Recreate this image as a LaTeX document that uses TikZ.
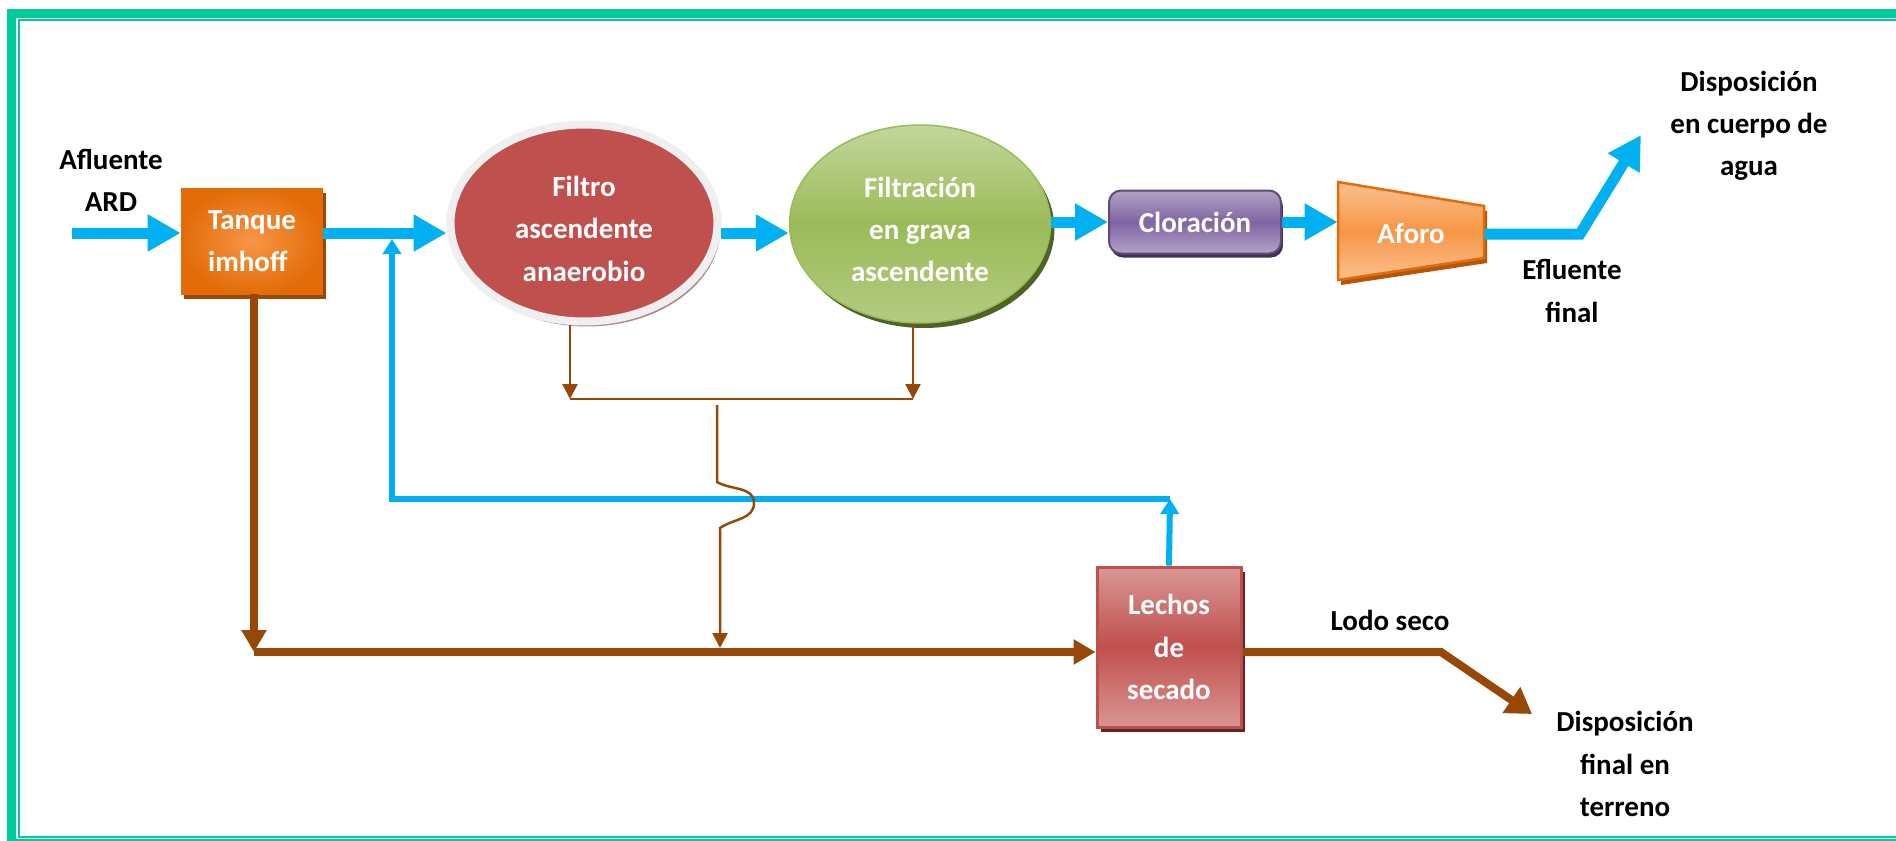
\documentclass[tikz,border=0pt]{standalone}
\usepackage{fontspec}
\setmainfont{Carlito}
\usetikzlibrary{arrows.meta,shapes.geometric,shadows}

\begin{document}
\begin{tikzpicture}[x=0.02cm,y=-0.02cm,line join=miter,
    every node/.style={font=\bfseries\fontsize{16.5}{24}\selectfont,align=center},
    caja/.style={text=white,inner sep=0pt},
    flujo/.style={draw=aguacolor,line width=0.22cm,-{Triangle[width=0.7cm,length=0.66cm]}},
    retorno/.style={draw=aguacolor,line width=0.12cm,-{Triangle[width=0.36cm,length=0.3cm]}},
    lodo/.style={draw=lodocolor,line width=0.16cm,-{Triangle[width=0.48cm,length=0.44cm]}},
    lodofino/.style={draw=lodocolor,line width=0.05cm,-{Triangle[width=0.3cm,length=0.3cm]}}]

    \definecolor{marcocolor}{HTML}{00CC99}
    \definecolor{aguacolor}{HTML}{00B0F0}
    \definecolor{lodocolor}{HTML}{974806}
    \definecolor{tanquecolor}{HTML}{E36C09}
    \definecolor{tanqueclaro}{HTML}{F79646}
    \definecolor{tanquesombra}{HTML}{984807}
    \definecolor{filtrocolor}{HTML}{C0504D}
    \definecolor{filtroborde}{HTML}{EFEFEF}
    \definecolor{filtrosombra}{RGB}{176,140,140}
    \definecolor{gravacolor}{HTML}{9BBB59}
    \definecolor{gravaclaro}{HTML}{C3D69B}
    \definecolor{gravasombra}{HTML}{4F6228}
    \definecolor{cloracolor}{HTML}{8064A2}
    \definecolor{cloraclaro}{HTML}{B3A2C7}
    \definecolor{cloraborde}{HTML}{5F497A}
    \definecolor{clorasombra}{HTML}{3F3151}
    \definecolor{aforocolor}{HTML}{F79646}
    \definecolor{aforoclaro}{HTML}{FAC090}
    \definecolor{aforoborde}{HTML}{E36C09}
    \definecolor{aforosombra}{HTML}{B65708}
    \definecolor{lechoscolor}{HTML}{C0504D}
    \definecolor{lechosclaro}{HTML}{D99694}
    \definecolor{lechossombra}{HTML}{632523}

    \useasboundingbox (0,0) rectangle (1896,840);
    \clip (0,0) rectangle (1896,840);

    \draw[marcocolor,line width=0.18cm] (1896,13) -- (11.5,13) -- (11.5,843.5) -- (1896,843.5);
    \draw[marcocolor,line width=0.05cm] (1896,20) -- (19,20) -- (19,837) -- (1896,837);

    \node[caja,rectangle,minimum width=2.84cm,minimum height=2.12cm,align=left,
        inner color=tanqueclaro,outer color=tanquecolor,
        drop shadow={shadow xshift=0.06cm,shadow yshift=-0.1cm,fill=tanquesombra,opacity=1}]
        (tanque) at (252,241) {Tanque\\imhoff};

    \node[caja,ellipse,minimum width=5.34cm,minimum height=3.94cm,
        fill=filtrocolor,draw=filtroborde,line width=0.16cm,
        drop shadow={shadow xshift=0.06cm,shadow yshift=-0.1cm,fill=filtrosombra,opacity=1}]
        (filtro) at (584,223) {\rule{0pt}{0.64cm}Filtro\\ascendente\\anaerobio};

    \node[caja,ellipse,minimum width=5.22cm,minimum height=3.96cm,
        top color=gravaclaro,bottom color=gravaclaro!60!gravacolor,middle color=gravacolor,
        draw=gravacolor,line width=0.03cm,
        drop shadow={shadow xshift=0.08cm,shadow yshift=-0.1cm,fill=gravasombra,opacity=1}]
        (grava) at (920,224) {\rule{0pt}{0.62cm}Filtración\\en grava\\ascendente};

    \node[caja,rectangle,rounded corners=0.24cm,minimum width=3.44cm,minimum height=1.26cm,
        top color=cloraclaro,bottom color=cloraclaro,middle color=cloracolor,
        draw=cloraborde,line width=0.04cm,
        drop shadow={shadow xshift=0.04cm,shadow yshift=-0.08cm,fill=clorasombra,opacity=1}]
        (cloracion) at (1195,222) {Cloración};

    \fill[aforosombra] (1341,187) -- (1487,211) -- (1487,263) -- (1341,285) -- cycle;
    \path[draw=aforoborde,line width=0.05cm,top color=aforoclaro,bottom color=aforoclaro,
        middle color=aforocolor] (1338,182) -- (1484,206) -- (1484,258) -- (1338,280) -- cycle;
    \node[caja,minimum width=2.92cm,minimum height=1.96cm] (aforo) at (1411,234) {Aforo};

    \node[caja,rectangle,minimum width=2.88cm,minimum height=3.2cm,
        top color=lechosclaro,bottom color=lechosclaro,middle color=lechoscolor,
        draw=lechoscolor,line width=0.06cm,
        drop shadow={shadow xshift=0.08cm,shadow yshift=-0.1cm,fill=lechossombra,opacity=1}]
        (lechos) at (1169,647) {Lechos\\de\\secado};

    \node (afluente) at (111,180) {Afluente\\ARD};
    \node (efluente) at (1572,291) {Efluente\\final};
    \node (cuerpo) at (1749,126) {Disposición\\en cuerpo de\\agua};
    \node (lodoseco) at (1390,620) {Lodo seco};
    \node (terreno) at (1625,764) {Disposición\\final en\\terreno};

    \coordinate (entrada) at (72,233);
    \coordinate (union) at (392,239);
    \coordinate (efgiro) at (1580,234);
    \coordinate (efsalida) at (1641,135);
    \coordinate (ret1) at (1170,499);
    \coordinate (ret2) at (392,499);
    \coordinate (caida1) at (570,399);
    \coordinate (caida2) at (913,399);
    \coordinate (baja1) at (717,405);
    \coordinate (baja2) at (717,482);
    \coordinate (baja3) at (720,528);
    \coordinate (baja4) at (720,648);
    \coordinate (fondo) at (254,652);
    \coordinate (lodogiro) at (1441,652);
    \coordinate (lodosalida) at (1532,714);

    \draw[flujo] (entrada) -- (entrada -| tanque.west);
    \draw[flujo] (tanque.east |- entrada) -- (filtro.west |- entrada);
    \draw[flujo] (filtro.east |- entrada) -- (grava.west |- entrada);
    \draw[flujo] (grava.east |- cloracion.west) -- (cloracion.west);
    \draw[flujo] (cloracion.east) -- (aforo.west |- cloracion.east);
    \draw[flujo] (aforo.east) -- (efgiro) -- (efsalida);

    \draw[retorno] (lechos.north) -- (ret1);
    \draw[retorno] (ret1) -- (ret2) -- (union);

    \draw[lodofino] (caida1 |- filtro.south) -- (caida1);
    \draw[lodofino] (caida2 |- grava.south) -- (caida2);
    \draw[lodocolor,line width=0.05cm] (caida1) -- (caida2);
    \draw[lodofino] (baja1) -- (baja2) to[out=-30,in=90] (754,503) to[out=-90,in=35] (baja3) -- (baja4);

    \draw[lodo] (tanque.south -| fondo) -- (fondo);
    \draw[lodo] (fondo) -- (fondo -| lechos.west);
    \draw[lodo,-{Triangle[width=0.6cm,length=0.5cm]}] (lechos.east |- fondo) -- (lodogiro) -- (lodosalida);

\end{tikzpicture}
\end{document}
